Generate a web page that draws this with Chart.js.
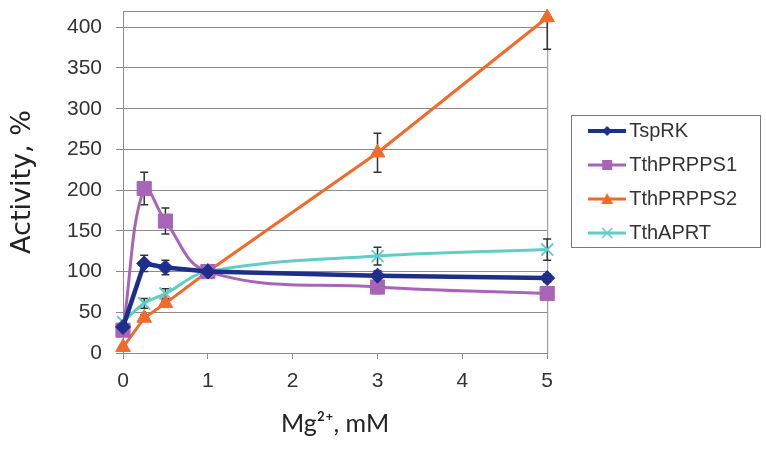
<!DOCTYPE html>
<html>
<head>
<meta charset="utf-8">
<script src="https://cdn.jsdelivr.net/npm/chart.js@4"></script>
<style>
  html, body { margin: 0; padding: 0; background: #ffffff; }
  #wrap { width: 766px; height: 450px; }
</style>
</head>
<body>
<div id="wrap"><canvas id="c" width="766" height="450"></canvas></div>
<script>
// ---- data ----
const mgValues   = [0, 0.25, 0.5, 1, 3, 5];            // Mg2+, mM
const seriesNames = ['TspRK', 'TthPRPPS1', 'TthPRPPS2', 'TthAPRT'];
const tsprk      = [32, 110, 105, 100, 95, 92];
const tsprkErr   = [5, 10, 9, 8, 6, 5];
const prpps1     = [28, 202, 162, 100, 81, 73];
const prpps1Err  = [4, 20, 16, 7, 8, 4];
const prpps2     = [7, 43, 61, 100, 246, 412];
const prpps2Err  = [3, 4, 4, 6, 24, 39];
const aprt       = [38, 61, 73, 100, 119, 127];
const aprtErr    = [4, 6, 6, 8, 11, 13];
const xTicks     = [0, 1, 2, 3, 4, 5];
const yTicks     = [0, 50, 100, 150, 200, 250, 300, 350, 400];
const yMax       = 420;

const colors = ['#1E2E8B', '#A865B8', '#F26A2A', '#60CDC6'];
const pointStyles = ['rectRot', 'rect', 'triangle', 'crossRot'];
const lineWidths = [4.5, 3, 3, 3];
const radii = [7.5, 10, 8.5, 8.5];
const tensions = [0, 0.4, 0, 0.4];

function toPoints(vals) { return mgValues.map((x, i) => ({ x: x, y: vals[i] })); }
const seriesVals = [tsprk, prpps1, prpps2, aprt];
const seriesErr = [tsprkErr, prpps1Err, prpps2Err, aprtErr];

// legend sample images (line + marker)
function legendImage(i) {
  const cv = document.createElement('canvas');
  cv.width = 38; cv.height = 16;
  const g = cv.getContext('2d');
  g.strokeStyle = colors[i]; g.fillStyle = colors[i];
  g.lineWidth = Math.min(lineWidths[i], 4);
  g.beginPath(); g.moveTo(0, 8); g.lineTo(38, 8); g.stroke();
  const cx = 19, cy = 8;
  g.beginPath();
  if (i === 0) { g.moveTo(cx, cy - 5); g.lineTo(cx + 5, cy); g.lineTo(cx, cy + 5); g.lineTo(cx - 5, cy); g.closePath(); g.fill(); }
  else if (i === 1) { g.fillRect(cx - 5, cy - 5, 10, 10); }
  else if (i === 2) { g.moveTo(cx, cy - 6); g.lineTo(cx + 6, cy + 5); g.lineTo(cx - 6, cy + 5); g.closePath(); g.fill(); }
  else { g.lineWidth = 1.5; g.moveTo(cx - 5, cy - 5); g.lineTo(cx + 5, cy + 5); g.moveTo(cx + 5, cy - 5); g.lineTo(cx - 5, cy + 5); g.stroke(); }
  return cv;
}
const legendImgs = seriesNames.map((_, i) => legendImage(i));

const datasets = seriesNames.map((name, i) => ({
  label: name,
  data: toPoints(seriesVals[i]),
  borderColor: colors[i],
  backgroundColor: colors[i],
  borderWidth: lineWidths[i],
  pointStyle: pointStyles[i],
  pointRadius: radii[i],
  pointBorderWidth: i === 3 ? 2 : 1,
  pointBorderColor: colors[i],
  pointBackgroundColor: colors[i],
  tension: tensions[i],
  clip: false,
  errors: seriesErr[i]
}));

const plotFrame = {
  id: 'plotFrame',
  beforeDatasetsDraw(chart) {
    const { ctx, chartArea: a } = chart;
    ctx.save();
    ctx.strokeStyle = '#8a8a8a';
    ctx.lineWidth = 1;
    ctx.beginPath();
    ctx.moveTo(a.left, a.top + 0.5); ctx.lineTo(a.right + 0.5, a.top + 0.5);
    ctx.lineTo(a.right + 0.5, a.bottom);
    ctx.stroke();
    ctx.restore();
    // error bars
    const xs = chart.scales.x, ys = chart.scales.y;
    ctx.save();
    ctx.beginPath(); ctx.rect(a.left, a.top, a.right - a.left + 6, a.bottom - a.top); ctx.clip();
    ctx.strokeStyle = '#333333';
    ctx.lineWidth = 1.5;
    chart.data.datasets.forEach((ds) => {
      ds.data.forEach((p, j) => {
        const e = ds.errors[j];
        const px = xs.getPixelForValue(p.x);
        const yt = ys.getPixelForValue(p.y + e);
        const yb = ys.getPixelForValue(p.y - e);
        ctx.beginPath();
        ctx.moveTo(px, yt); ctx.lineTo(px, yb);
        ctx.moveTo(px - 4, yt); ctx.lineTo(px + 4, yt);
        ctx.moveTo(px - 4, yb); ctx.lineTo(px + 4, yb);
        ctx.stroke();
      });
    });
    ctx.restore();
  },
  afterDraw(chart) {
    const lg = chart.legend;
    if (!lg || !lg.legendHitBoxes || !lg.legendHitBoxes.length) return;
    const hb = lg.legendHitBoxes;
    let l = Infinity, r = -Infinity, t = Infinity, b = -Infinity;
    hb.forEach(h => { l = Math.min(l, h.left); r = Math.max(r, h.left + h.width); t = Math.min(t, h.top); b = Math.max(b, h.top + h.height); });
    const ctx = chart.ctx;
    ctx.save();
    ctx.strokeStyle = '#7a7a7a';
    ctx.lineWidth = 1;
    ctx.strokeRect(Math.round(l - 24) + 0.5, Math.round(t - 6) + 0.5, Math.round(r - l + 47), Math.round(b - t + 10));
    ctx.restore();
  }
};

new Chart(document.getElementById('c'), {
  type: 'line',
  data: { datasets: datasets },
  plugins: [plotFrame],
  options: {
    responsive: false,
    animation: false,
    devicePixelRatio: 1,
    layout: { padding: { top: 11, right: 19, bottom: 0, left: 0 } },
    plugins: {
      tooltip: { enabled: false },
      legend: {
        position: 'right',
        fullSize: false,
        align: 'center',
        maxWidth: 240,
        labels: {
          usePointStyle: true,
          pointStyleWidth: 24,
          padding: 14,
          color: '#333333',
          font: { family: "'Liberation Sans', Arial, sans-serif", size: 20 },
          generateLabels(chart) {
            const items = Chart.defaults.plugins.legend.labels.generateLabels(chart);
            items.forEach((it, i) => { it.pointStyle = legendImgs[i]; });
            return items;
          }
        }
      }
    },
    scales: {
      x: {
        type: 'linear',
        min: xTicks[0],
        max: xTicks[xTicks.length - 1],
        afterBuildTicks(s) { s.ticks = xTicks.map(v => ({ value: v })); },
        afterFit(s) { s.height = 97; },
        grid: { drawOnChartArea: false, tickLength: 6, color: '#8a8a8a' },
        border: { color: '#8a8a8a', width: 1 },
        ticks: {
          padding: 10,
          color: '#333333',
          font: { family: "'Liberation Sans', Arial, sans-serif", size: 21 }
        },
        title: {
          display: true,
          text: 'Mg²⁺, mM',
          color: '#222222',
          font: { family: "Lato, 'Noto Sans', sans-serif", size: 25 },
          padding: { top: 0, bottom: 11 }
        }
      },
      y: {
        type: 'linear',
        min: 0,
        max: yMax,
        afterBuildTicks(s) { s.ticks = yTicks.map(v => ({ value: v })); },
        afterFit(s) { s.width = 123; s.paddingTop = 0; s.paddingBottom = 0; },
        grid: { color: '#8a8a8a', tickLength: 7 },
        border: { color: '#8a8a8a', width: 1 },
        ticks: {
          padding: 14,
          color: '#333333',
          font: { family: "'Liberation Sans', Arial, sans-serif", size: 21 }
        },
        title: {
          display: true,
          text: 'Activity, %',
          color: '#222222',
          font: { family: "'DejaVu Sans', sans-serif", size: 27 },
          padding: { top: 7, bottom: 0 }
        }
      },
      y2: {
        type: 'linear',
        position: 'right',
        display: true,
        grid: { display: false },
        border: { display: false },
        ticks: { display: false },
        afterFit(s) { s.width = 34; s.paddingTop = 0; s.paddingBottom = 0; }
      }
    }
  }
});
</script>
</body>
</html>
